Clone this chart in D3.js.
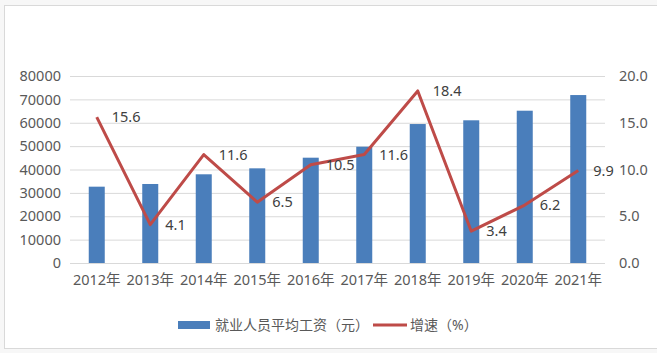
<!DOCTYPE html>
<html><head><meta charset="utf-8">
<script src="https://cdn.jsdelivr.net/npm/d3@7"></script>
<style>body{margin:0;background:#fff}svg{display:block}text{font-family:"Noto Sans","Noto Sans CJK SC",sans-serif}</style>
</head><body><svg id="c" width="657" height="353"></svg>
<script>
const years = ["2012年","2013年","2014年","2015年","2016年","2017年","2018年","2019年","2020年","2021年"];
const wages = [32650, 33800, 37950, 40500, 45050, 49750, 59450, 61050, 65150, 71850];
const growth = [15.6, 4.1, 11.6, 6.5, 10.5, 11.6, 18.4, 3.4, 6.2, 9.9];
const leftTicks = [0,10000,20000,30000,40000,50000,60000,70000,80000];
const rightTicks = [0,5,10,15,20];
const legendLabels = ["就业人员平均工资（元）","增速（%）"];

const svg = d3.select("#c");
const L=70, R=605, T=76, B=263;
svg.append("rect").attr("x",0).attr("y",0).attr("width",657).attr("height",353).attr("fill","#f7f7f7");
svg.append("rect").attr("x",4.5).attr("y",5.5).attr("width",670).attr("height",343).attr("fill","#fff").attr("stroke","#d9d9d9");

const x = d3.scaleBand().domain(years).range([L,R]);
const yL = d3.scaleLinear().domain([0,80000]).range([B,T]);
const yR = d3.scaleLinear().domain([0,20]).range([B,T]);

// gridlines
svg.append("g").selectAll("line").data(leftTicks).join("line")
  .attr("x1",L).attr("x2",R).attr("y1",d=>yL(d)+0.5).attr("y2",d=>yL(d)+0.5)
  .attr("stroke","#d9d9d9").attr("stroke-width",1);

// left axis
const gl = svg.append("g").attr("transform",`translate(${L-5},0)`)
  .call(d3.axisLeft(yL).tickValues(leftTicks).tickSize(0).tickPadding(4).tickFormat(d3.format("d")));
gl.select(".domain").remove();
gl.selectAll("text").attr("fill","#595959").attr("font-size",14.5);

// right axis
const gr = svg.append("g").attr("transform",`translate(${R+10},0)`)
  .call(d3.axisRight(yR).tickValues(rightTicks).tickSize(0).tickPadding(4).tickFormat(d3.format(".1f")));
gr.select(".domain").remove();
gr.selectAll("text").attr("fill","#595959").attr("font-size",14.5);

// bottom axis
const gb = svg.append("g").attr("transform",`translate(0,${B})`)
  .call(d3.axisBottom(x).tickSize(0).tickPadding(12));
gb.select(".domain").remove();
gb.selectAll("text").attr("fill","#595959").attr("font-size",14.5);

// bars
const bw = 16;
svg.append("g").selectAll("rect").data(wages).join("rect")
  .attr("x",(d,i)=>x(years[i])+x.bandwidth()/2-bw/2)
  .attr("y",d=>yL(d)).attr("width",bw).attr("height",d=>B-yL(d))
  .attr("fill","#4a7ebb");

// line
const line = d3.line().x((d,i)=>x(years[i])+x.bandwidth()/2).y(d=>yR(d));
svg.append("path").datum(growth).attr("d",line).attr("fill","none")
  .attr("stroke","#be4b48").attr("stroke-width",3).attr("stroke-linejoin","round");

// labels
svg.append("g").selectAll("text").data(growth).join("text")
  .attr("x",(d,i)=>x(years[i])+x.bandwidth()/2+15)
  .attr("y",d=>yR(d)).attr("dy","0.35em")
  .attr("fill","#404040").attr("font-size",14.5)
  .text(d=>d.toFixed(1));

// legend
const lg = svg.append("g");
lg.append("rect").attr("x",178).attr("y",321).attr("width",32).attr("height",8).attr("fill","#4a7ebb");
lg.append("text").attr("x",215).attr("y",325).attr("dy","0.35em").attr("font-size",14).attr("fill","#595959").text(legendLabels[0]);
lg.append("line").attr("x1",373).attr("x2",407).attr("y1",325).attr("y2",325).attr("stroke","#be4b48").attr("stroke-width",3);
lg.append("text").attr("x",410).attr("y",325).attr("dy","0.35em").attr("font-size",14).attr("fill","#595959").text(legendLabels[1]);
</script></body></html>
